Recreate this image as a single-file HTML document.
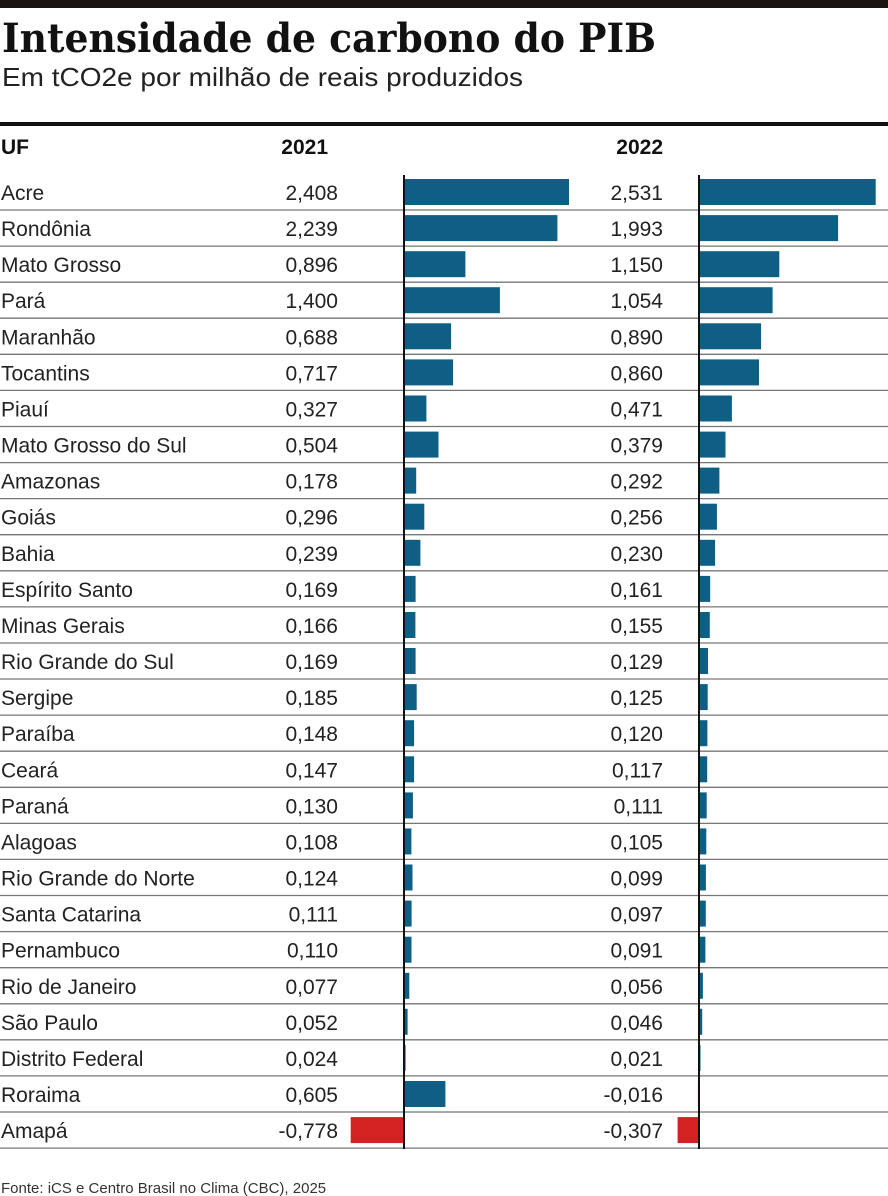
<!DOCTYPE html>
<html><head><meta charset="utf-8"><style>
html,body{margin:0;padding:0;background:#fff;width:888px;height:1196px;overflow:hidden}
svg{display:block}
.l{font-family:"Liberation Sans",sans-serif;font-size:21px;fill:#222}
.n{font-family:"Liberation Sans",sans-serif;font-size:21px;fill:#222;text-anchor:end}
.b{fill:#0f5f85}.r{fill:#d42222}
.s{stroke:#777;stroke-width:1.3}
</style></head><body>
<svg width="888" height="1196" viewBox="0 0 888 1196" xmlns="http://www.w3.org/2000/svg">
<rect x="0" y="0" width="888" height="8" fill="#1a1410"/>
<text x="2" y="52" font-family="DejaVu Serif Condensed,DejaVu Serif,serif" font-weight="bold" font-size="40" fill="#111" textLength="654" lengthAdjust="spacingAndGlyphs">Intensidade de carbono do PIB</text>
<text x="2" y="86" font-family="Liberation Sans,sans-serif" font-size="26" fill="#222" textLength="521" lengthAdjust="spacingAndGlyphs">Em tCO2e por milhão de reais produzidos</text>
<rect x="0" y="122" width="888" height="4" fill="#111"/>
<text x="1" y="154" font-family="Liberation Sans,sans-serif" font-weight="bold" font-size="21" fill="#111">UF</text>
<text x="328" y="154" text-anchor="end" font-family="Liberation Sans,sans-serif" font-weight="bold" font-size="21" fill="#111">2021</text>
<text x="663" y="154" text-anchor="end" font-family="Liberation Sans,sans-serif" font-weight="bold" font-size="21" fill="#111">2022</text>

<g transform="translate(0,192)"><text class="l" x="1" y="8">Acre</text><text class="n" x="338" y="8">2,408</text><rect class="b" x="404" y="-13" width="165" height="26"/><text class="n" x="663" y="8">2,531</text><rect class="b" x="699" y="-13" width="176.7" height="26"/><line class="s" x1="0" x2="888" y1="18" y2="18"/></g>
<g transform="translate(0,228.1)"><text class="l" x="1" y="8">Rondônia</text><text class="n" x="338" y="8">2,239</text><rect class="b" x="404" y="-13" width="153.4" height="26"/><text class="n" x="663" y="8">1,993</text><rect class="b" x="699" y="-13" width="139.1" height="26"/><line class="s" x1="0" x2="888" y1="18" y2="18"/></g>
<g transform="translate(0,264.2)"><text class="l" x="1" y="8">Mato Grosso</text><text class="n" x="338" y="8">0,896</text><rect class="b" x="404" y="-13" width="61.4" height="26"/><text class="n" x="663" y="8">1,150</text><rect class="b" x="699" y="-13" width="80.3" height="26"/><line class="s" x1="0" x2="888" y1="18" y2="18"/></g>
<g transform="translate(0,300.2)"><text class="l" x="1" y="8">Pará</text><text class="n" x="338" y="8">1,400</text><rect class="b" x="404" y="-13" width="95.9" height="26"/><text class="n" x="663" y="8">1,054</text><rect class="b" x="699" y="-13" width="73.6" height="26"/><line class="s" x1="0" x2="888" y1="18" y2="18"/></g>
<g transform="translate(0,336.3)"><text class="l" x="1" y="8">Maranhão</text><text class="n" x="338" y="8">0,688</text><rect class="b" x="404" y="-13" width="47.1" height="26"/><text class="n" x="663" y="8">0,890</text><rect class="b" x="699" y="-13" width="62.1" height="26"/><line class="s" x1="0" x2="888" y1="18" y2="18"/></g>
<g transform="translate(0,372.4)"><text class="l" x="1" y="8">Tocantins</text><text class="n" x="338" y="8">0,717</text><rect class="b" x="404" y="-13" width="49.1" height="26"/><text class="n" x="663" y="8">0,860</text><rect class="b" x="699" y="-13" width="60" height="26"/><line class="s" x1="0" x2="888" y1="18" y2="18"/></g>
<g transform="translate(0,408.5)"><text class="l" x="1" y="8">Piauí</text><text class="n" x="338" y="8">0,327</text><rect class="b" x="404" y="-13" width="22.4" height="26"/><text class="n" x="663" y="8">0,471</text><rect class="b" x="699" y="-13" width="32.9" height="26"/><line class="s" x1="0" x2="888" y1="18" y2="18"/></g>
<g transform="translate(0,444.6)"><text class="l" x="1" y="8">Mato Grosso do Sul</text><text class="n" x="338" y="8">0,504</text><rect class="b" x="404" y="-13" width="34.5" height="26"/><text class="n" x="663" y="8">0,379</text><rect class="b" x="699" y="-13" width="26.5" height="26"/><line class="s" x1="0" x2="888" y1="18" y2="18"/></g>
<g transform="translate(0,480.6)"><text class="l" x="1" y="8">Amazonas</text><text class="n" x="338" y="8">0,178</text><rect class="b" x="404" y="-13" width="12.2" height="26"/><text class="n" x="663" y="8">0,292</text><rect class="b" x="699" y="-13" width="20.4" height="26"/><line class="s" x1="0" x2="888" y1="18" y2="18"/></g>
<g transform="translate(0,516.7)"><text class="l" x="1" y="8">Goiás</text><text class="n" x="338" y="8">0,296</text><rect class="b" x="404" y="-13" width="20.3" height="26"/><text class="n" x="663" y="8">0,256</text><rect class="b" x="699" y="-13" width="17.9" height="26"/><line class="s" x1="0" x2="888" y1="18" y2="18"/></g>
<g transform="translate(0,552.8)"><text class="l" x="1" y="8">Bahia</text><text class="n" x="338" y="8">0,239</text><rect class="b" x="404" y="-13" width="16.4" height="26"/><text class="n" x="663" y="8">0,230</text><rect class="b" x="699" y="-13" width="16.1" height="26"/><line class="s" x1="0" x2="888" y1="18" y2="18"/></g>
<g transform="translate(0,588.9)"><text class="l" x="1" y="8">Espírito Santo</text><text class="n" x="338" y="8">0,169</text><rect class="b" x="404" y="-13" width="11.6" height="26"/><text class="n" x="663" y="8">0,161</text><rect class="b" x="699" y="-13" width="11.2" height="26"/><line class="s" x1="0" x2="888" y1="18" y2="18"/></g>
<g transform="translate(0,625)"><text class="l" x="1" y="8">Minas Gerais</text><text class="n" x="338" y="8">0,166</text><rect class="b" x="404" y="-13" width="11.4" height="26"/><text class="n" x="663" y="8">0,155</text><rect class="b" x="699" y="-13" width="10.8" height="26"/><line class="s" x1="0" x2="888" y1="18" y2="18"/></g>
<g transform="translate(0,661)"><text class="l" x="1" y="8">Rio Grande do Sul</text><text class="n" x="338" y="8">0,169</text><rect class="b" x="404" y="-13" width="11.6" height="26"/><text class="n" x="663" y="8">0,129</text><rect class="b" x="699" y="-13" width="9" height="26"/><line class="s" x1="0" x2="888" y1="18" y2="18"/></g>
<g transform="translate(0,697.1)"><text class="l" x="1" y="8">Sergipe</text><text class="n" x="338" y="8">0,185</text><rect class="b" x="404" y="-13" width="12.7" height="26"/><text class="n" x="663" y="8">0,125</text><rect class="b" x="699" y="-13" width="8.7" height="26"/><line class="s" x1="0" x2="888" y1="18" y2="18"/></g>
<g transform="translate(0,733.2)"><text class="l" x="1" y="8">Paraíba</text><text class="n" x="338" y="8">0,148</text><rect class="b" x="404" y="-13" width="10.1" height="26"/><text class="n" x="663" y="8">0,120</text><rect class="b" x="699" y="-13" width="8.4" height="26"/><line class="s" x1="0" x2="888" y1="18" y2="18"/></g>
<g transform="translate(0,769.3)"><text class="l" x="1" y="8">Ceará</text><text class="n" x="338" y="8">0,147</text><rect class="b" x="404" y="-13" width="10.1" height="26"/><text class="n" x="663" y="8">0,117</text><rect class="b" x="699" y="-13" width="8.2" height="26"/><line class="s" x1="0" x2="888" y1="18" y2="18"/></g>
<g transform="translate(0,805.4)"><text class="l" x="1" y="8">Paraná</text><text class="n" x="338" y="8">0,130</text><rect class="b" x="404" y="-13" width="8.9" height="26"/><text class="n" x="663" y="8">0,111</text><rect class="b" x="699" y="-13" width="7.7" height="26"/><line class="s" x1="0" x2="888" y1="18" y2="18"/></g>
<g transform="translate(0,841.4)"><text class="l" x="1" y="8">Alagoas</text><text class="n" x="338" y="8">0,108</text><rect class="b" x="404" y="-13" width="7.4" height="26"/><text class="n" x="663" y="8">0,105</text><rect class="b" x="699" y="-13" width="7.3" height="26"/><line class="s" x1="0" x2="888" y1="18" y2="18"/></g>
<g transform="translate(0,877.5)"><text class="l" x="1" y="8">Rio Grande do Norte</text><text class="n" x="338" y="8">0,124</text><rect class="b" x="404" y="-13" width="8.5" height="26"/><text class="n" x="663" y="8">0,099</text><rect class="b" x="699" y="-13" width="6.9" height="26"/><line class="s" x1="0" x2="888" y1="18" y2="18"/></g>
<g transform="translate(0,913.6)"><text class="l" x="1" y="8">Santa Catarina</text><text class="n" x="338" y="8">0,111</text><rect class="b" x="404" y="-13" width="7.6" height="26"/><text class="n" x="663" y="8">0,097</text><rect class="b" x="699" y="-13" width="6.8" height="26"/><line class="s" x1="0" x2="888" y1="18" y2="18"/></g>
<g transform="translate(0,949.7)"><text class="l" x="1" y="8">Pernambuco</text><text class="n" x="338" y="8">0,110</text><rect class="b" x="404" y="-13" width="7.5" height="26"/><text class="n" x="663" y="8">0,091</text><rect class="b" x="699" y="-13" width="6.4" height="26"/><line class="s" x1="0" x2="888" y1="18" y2="18"/></g>
<g transform="translate(0,985.8)"><text class="l" x="1" y="8">Rio de Janeiro</text><text class="n" x="338" y="8">0,077</text><rect class="b" x="404" y="-13" width="5.3" height="26"/><text class="n" x="663" y="8">0,056</text><rect class="b" x="699" y="-13" width="3.9" height="26"/><line class="s" x1="0" x2="888" y1="18" y2="18"/></g>
<g transform="translate(0,1021.8)"><text class="l" x="1" y="8">São Paulo</text><text class="n" x="338" y="8">0,052</text><rect class="b" x="404" y="-13" width="3.6" height="26"/><text class="n" x="663" y="8">0,046</text><rect class="b" x="699" y="-13" width="3.2" height="26"/><line class="s" x1="0" x2="888" y1="18" y2="18"/></g>
<g transform="translate(0,1057.9)"><text class="l" x="1" y="8">Distrito Federal</text><text class="n" x="338" y="8">0,024</text><rect class="b" x="404" y="-13" width="1.6" height="26"/><text class="n" x="663" y="8">0,021</text><rect class="b" x="699" y="-13" width="1.5" height="26"/><line class="s" x1="0" x2="888" y1="18" y2="18"/></g>
<g transform="translate(0,1094)"><text class="l" x="1" y="8">Roraima</text><text class="n" x="338" y="8">0,605</text><rect class="b" x="404" y="-13" width="41.4" height="26"/><text class="n" x="663" y="8">-0,016</text><rect class="r" x="697.9" y="-13" width="1.1" height="26"/><line class="s" x1="0" x2="888" y1="18" y2="18"/></g>
<g transform="translate(0,1130.1)"><text class="l" x="1" y="8">Amapá</text><text class="n" x="338" y="8">-0,778</text><rect class="r" x="350.7" y="-13" width="53.3" height="26"/><text class="n" x="663" y="8">-0,307</text><rect class="r" x="677.6" y="-13" width="21.4" height="26"/><line class="s" x1="0" x2="888" y1="18" y2="18"/></g>

<line x1="404" x2="404" y1="175" y2="1149" stroke="#111" stroke-width="2"/>
<line x1="699" x2="699" y1="175" y2="1149" stroke="#111" stroke-width="2"/>
<text x="1" y="1193" font-family="Liberation Sans,sans-serif" font-size="15" fill="#333">Fonte: iCS e Centro Brasil no Clima (CBC), 2025</text>
</svg>
</body></html>
